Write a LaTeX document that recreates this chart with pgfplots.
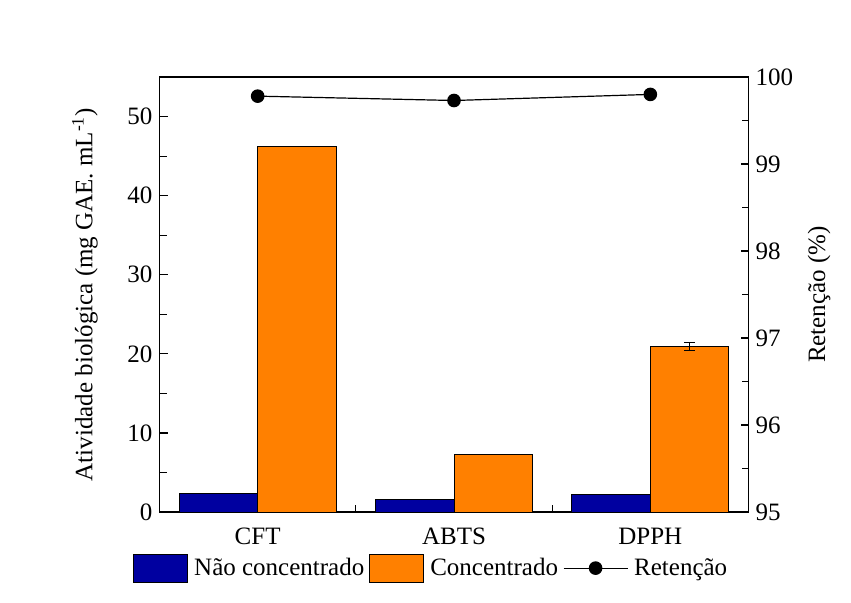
\documentclass[border=0pt]{standalone}
\usepackage{pgfplots}
\pgfplotsset{compat=1.18}
\usepackage{fontspec}
\setmainfont{Liberation Serif}

\definecolor{navybar}{RGB}{0,0,160}
\definecolor{orangebar}{RGB}{255,128,0}

\pgfplotsset{
  common/.style={
    at={(79.75pt,45pt)}, anchor=south west,
    scale only axis, width=294.5pt, height=217.5pt,
    xmin=-0.5, xmax=2.5,
    tick align=inside,
    major tick length=4pt, minor tick length=3.5pt,
    every tick/.style={black, line width=0.6pt},
    axis line style={line width=0.75pt},
    tick label style={font=\fontsize{12.5}{14.5}\selectfont},
    label style={font=\fontsize{12.5}{14.5}\selectfont},
    /pgf/number format/assume math mode=true,
  },
  barlegend/.style={legend image code/.code={%
    \draw[##1] (0pt,-7pt) rectangle (27pt,7pt);}},
  linelegend/.style={legend image code/.code={%
    \draw[mark repeat=2, mark phase=2, ##1]
      plot coordinates {(0pt,0pt) (16pt,0pt) (32pt,0pt)};}},
}

\begin{document}
\begin{tikzpicture}
\path[use as bounding box] (0,0) rectangle (425.5pt,301pt);

% Left axis: bars
\begin{axis}[
  common,
  ymin=0, ymax=55,
  xtick={0,1,2}, xticklabels={CFT,ABTS,DPPH},
  minor xtick={0.5,1.5},
  xtick pos=bottom, ytick pos=left,
  ytick={0,10,20,30,40,50}, minor ytick={5,15,25,35,45},
  ylabel={Atividade biológica (mg GAE. mL\textsuperscript{-1})},
  ylabel style={yshift=8pt},
  xticklabel style={yshift=-4.5pt},
]
  \addplot[ybar, bar width=0.4, bar shift=0pt, fill=navybar, draw=black, line width=0.5pt, forget plot]
    coordinates {(-0.2,2.37) (0.8,1.56) (1.8,2.24)};
  \addplot[ybar, bar width=0.4, bar shift=0pt, fill=orangebar, draw=black, line width=0.5pt, forget plot]
    coordinates {(0.2,46.2) (1.2,7.3)};
  \addplot[ybar, bar width=0.4, bar shift=0pt, fill=orangebar, draw=black, line width=0.5pt, forget plot,
    error bars/.cd, y dir=both, y explicit,
    error bar style={black, line width=0.5pt},
    error mark options={rotate=90, mark size=2.6pt, black, line width=0.5pt}]
    coordinates {(2.2,20.9) +- (0,0.5)};
\end{axis}

% Right axis: retention
\begin{axis}[
  common,
  ymin=95, ymax=100,
  axis x line=none,
  axis y line*=right,
  ytick={95,96,97,98,99,100}, minor ytick={95.5,96.5,97.5,98.5,99.5},
  ylabel={Retenção (\%)},
  ylabel style={yshift=-0.5pt},
  legend columns=3,
  legend style={draw=none, fill=none, font=\fontsize{12.5}{14.5}\selectfont,
    at={(0.463,-0.129)}, anchor=center,
    /tikz/every even column/.append style={column sep=0.5pt},
    /tikz/every odd column/.append style={column sep=1pt}},
]
  \addlegendimage{barlegend, fill=navybar, draw=black, line width=0.5pt}
  \addlegendentry{Não concentrado}
  \addlegendimage{barlegend, fill=orangebar, draw=black, line width=0.5pt}
  \addlegendentry{Concentrado}
  \addplot[black, line width=0.6pt, mark=*, mark size=3.1pt, linelegend]
    coordinates {(0,99.78) (1,99.73) (2,99.80)};
  \addlegendentry{Retenção}
\end{axis}
\end{tikzpicture}
\end{document}
